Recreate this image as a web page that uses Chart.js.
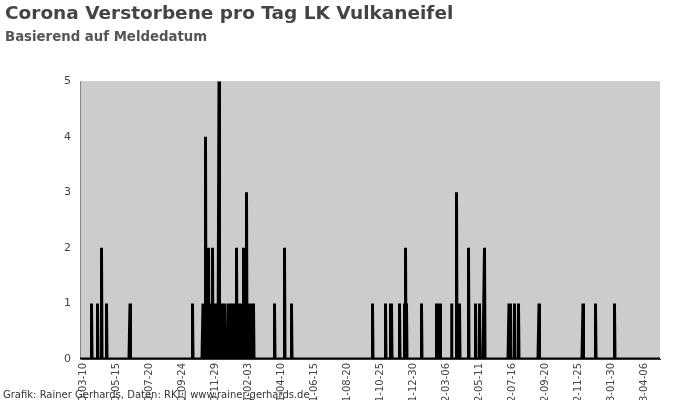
<!DOCTYPE html>
<html>
<head>
<meta charset="utf-8">
<script src="https://cdn.jsdelivr.net/npm/chart.js@4.4.0/dist/chart.umd.min.js"></script>
<style>
  html, body { margin: 0; padding: 0; background: #fff; }
  #wrap { width: 700px; height: 400px; }
</style>
</head>
<body>
<div id="wrap"><canvas id="mycanvas"></canvas></div>
<script>
// first and last reporting day shown on the axis
var firstDay = '2020-03-04';
var lastDay = '2023-05-08';

// days with reported deaths (all other days are 0)
var deathDays = [
	'2020-03-27', '2020-04-08', '2020-04-16', '2020-04-26', '2020-06-12', '2020-10-15',
	'2020-11-05', '2020-11-07', '2020-11-10', '2020-11-12', '2020-11-14', '2020-11-16',
	'2020-11-18', '2020-11-20', '2020-11-22', '2020-11-24', '2020-11-26', '2020-11-28',
	'2020-11-30', '2020-12-02', '2020-12-04', '2020-12-07', '2020-12-09', '2020-12-11',
	'2020-12-13', '2020-12-15', '2020-12-17', '2020-12-25', '2020-12-27', '2020-12-29',
	'2020-12-31', '2021-01-02', '2021-01-04', '2021-01-06', '2021-01-08', '2021-01-11',
	'2021-01-13', '2021-01-15', '2021-01-17', '2021-01-19', '2021-01-21', '2021-01-23',
	'2021-01-25', '2021-01-27', '2021-01-29', '2021-01-31', '2021-02-02', '2021-02-04',
	'2021-02-06', '2021-02-08', '2021-02-10', '2021-02-12', '2021-02-14',
	'2021-03-28', '2021-04-17', '2021-05-01', '2021-10-10', '2021-11-05', '2021-11-15',
	'2021-11-17', '2021-12-03', '2021-12-13', '2021-12-15', '2021-12-17',
	'2022-01-16', '2022-02-15', '2022-02-18', '2022-02-22', '2022-03-17', '2022-03-27',
	'2022-04-02', '2022-04-20', '2022-05-04', '2022-05-12', '2022-05-22', '2022-07-10',
	'2022-07-13', '2022-07-21', '2022-07-29', '2022-09-08', '2022-12-05', '2022-12-30',
	'2023-02-06'
];
var deathCounts = [
	1, 1, 2, 1, 1, 1,
	1, 1, 4, 1, 1, 2,
	1, 1, 1, 2, 1, 1,
	1, 1, 1, 5, 1, 1,
	1, 1, 1, 1, 1, 1,
	1, 1, 1, 1, 1, 2,
	1, 1, 1, 1, 1, 1,
	2, 1, 1, 3, 1, 1,
	1, 1, 1, 1, 1,
	1, 2, 1, 1, 1, 1,
	1, 1, 1, 2, 1,
	1, 1, 1, 1, 1, 3,
	1, 2, 1, 1, 2, 1,
	1, 1, 1, 1, 1, 1,
	1
];

var yTicks = [0, 1, 2, 3, 4, 5];
var labelEvery = 66;   // one date label every 66 days
var labelFirst = 6;    // 2020-03-10

// build the daily series
var days = [];
var deaths = [];
var d = new Date(firstDay + 'T00:00:00Z');
var end = new Date(lastDay + 'T00:00:00Z');
while (d <= end) {
	var s = d.toISOString().slice(0, 10);
	days.push(s);
	var k = deathDays.indexOf(s);
	deaths.push(k >= 0 ? deathCounts[k] : 0);
	d.setUTCDate(d.getUTCDate() + 1);
}

Chart.defaults.font.family = "'DejaVu Sans', sans-serif";
Chart.defaults.animation = false;

var plotBg = {
	id: 'plotBg',
	beforeDraw: function(chart) {
		var a = chart.chartArea, c = chart.ctx;
		c.save();
		c.fillStyle = '#cccccc';
		c.fillRect(a.left, a.top, a.right - a.left, a.bottom - a.top);
		c.restore();
	}
};

var footer = {
	id: 'footer',
	afterDraw: function(chart) {
		var c = chart.ctx;
		c.save();
		c.font = "10px 'DejaVu Sans', sans-serif";
		c.fillStyle = '#333';
		c.textBaseline = 'alphabetic';
		c.fillText('Grafik: Rainer Gerhards, Daten: RKI | www.rainer-gerhards.de', 3, 398);
		c.restore();
	}
};

var ctx = document.getElementById('mycanvas');
var chart = new Chart(ctx, {
	type: 'line',
	data: {
		labels: days,
		datasets: [{
			label: 'Verstorbene',
			data: deaths,
			borderColor: '#000',
			backgroundColor: '#000',
			borderWidth: 3,
			fill: 'origin',
			pointRadius: 0,
			tension: 0
		}]
	},
	options: {
		responsive: true,
		maintainAspectRatio: false,
		layout: { padding: { left: 5, right: 40, top: 0, bottom: 0 } },
		plugins: {
			legend: { display: false },
			tooltip: { enabled: false },
			title: {
				display: true,
				text: 'Corona Verstorbene pro Tag LK Vulkaneifel',
				align: 'start',
				color: '#444',
				font: { size: 18.5, weight: 'bold' },
				padding: { top: 3, bottom: 4 }
			},
			subtitle: {
				display: true,
				text: 'Basierend auf Meldedatum',
				align: 'start',
				color: '#555',
				font: { size: 13.3, weight: 'bold' },
				padding: { top: 0, bottom: 36 }
			}
		},
		scales: {
			x: {
				grid: { display: false, drawTicks: false },
				border: { display: true, color: '#333', width: 1 },
				ticks: {
					autoSkip: false,
					minRotation: 90,
					maxRotation: 90,
					padding: 4,
					color: '#444',
					font: { size: 10 },
					callback: function(value, index) {
						return (index - labelFirst) % labelEvery === 0 ? this.getLabelForValue(value) : null;
					}
				},
				afterFit: function(scale) { scale.height = 41; }
			},
			y: {
				min: yTicks[0],
				max: yTicks[yTicks.length - 1],
				grid: { display: false, drawTicks: false },
				border: { display: true, color: '#888', width: 1 },
				ticks: {
					stepSize: 1,
					padding: 9,
					color: '#444',
					font: { size: 11 }
				},
				afterFit: function(scale) { scale.width = 75; }
			}
		}
	},
	plugins: [plotBg, footer]
});
</script>
</body>
</html>
